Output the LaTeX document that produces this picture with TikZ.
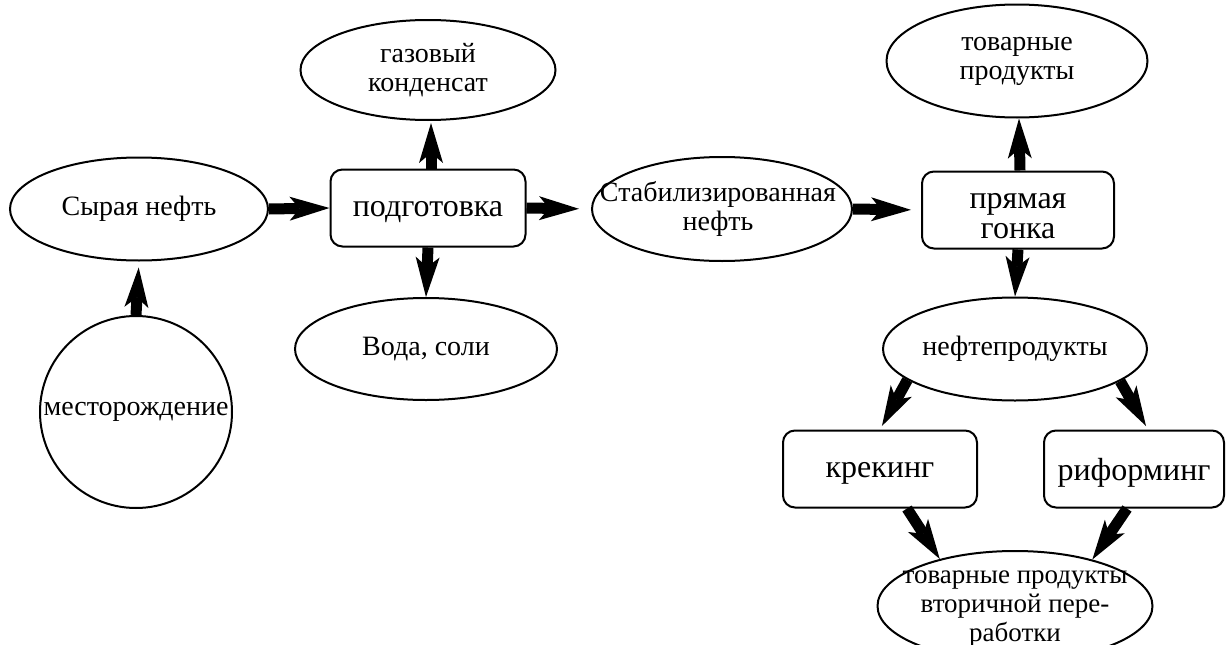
\documentclass[tikz,border=0pt]{standalone}
\usepackage{fontspec}
\setmainfont{Liberation Serif}
\usetikzlibrary{shapes.geometric,arrows.meta}
\begin{document}
\begin{tikzpicture}[x=1pt,y=-1pt,
 ell/.style={draw,line width=2pt,ellipse,inner sep=0pt},
 lbl/.style={align=center,font=\fontsize{28}{29}\selectfont,inner sep=0pt},
 bl/.style={align=center,font=\fontsize{32}{30}\selectfont,inner sep=0pt,yshift=-4pt},
 bx/.style={draw,line width=2pt,rounded corners=12pt,inner sep=0pt},
 flow/.style={line width=11pt,-{Stealth[length=40pt,width=24pt,inset=10pt,line width=0pt]}}]
\useasboundingbox (0,0) rectangle (1227,645);
% nodes
\node[ell,minimum width=258pt,minimum height=103pt,label={[lbl]center:Сырая нефть}] (syr) at (139,209) {};
\node[draw,line width=2pt,circle,minimum size=192pt,inner sep=0pt,label={[lbl]center:месторождение}] (mest) at (136,412) {};
\node[bx,minimum width=195pt,minimum height=77pt,label={[bl]center:подготовка}] (podg) at (428,208) {};
\node[ell,minimum width=255pt,minimum height=100pt,label={[lbl]center:газовый\\конденсат}] (gaz) at (428,70) {};
\node[ell,minimum width=262pt,minimum height=102pt,label={[lbl]center:Вода, соли}] (voda) at (426,349) {};
\node[ell,minimum width=260pt,minimum height=104pt,label={[lbl,xshift=-4pt]center:Стабилизированная\\нефть}] (stab) at (722,209) {};
\node[bx,minimum width=192pt,minimum height=77pt,label={[bl,yshift=-2pt]center:прямая\\гонка}] (pryam) at (1018,210) {};
\node[ell,minimum width=261pt,minimum height=113pt,label={[lbl]center:товарные\\продукты}] (tovar) at (1017,61) {};
\node[ell,minimum width=264pt,minimum height=103pt,label={[lbl]center:нефтепродукты}] (neft) at (1015,349) {};
\node[bx,minimum width=194pt,minimum height=77pt,label={[bl]center:крекинг}] (krek) at (880,469) {};
\node[bx,minimum width=180pt,minimum height=77pt,label={[bl]center:риформинг}] (riform) at (1134,469) {};
\node[ell,minimum width=275pt,minimum height=110pt,label={[lbl,font=\fontsize{27}{29}\selectfont,yshift=-3pt]center:товарные продукты\\вторичной пере-\\работки}] (vtor) at (1015,606) {};
% connectors
\draw[flow,shorten >=6pt] (mest.north) -- (syr.south);
\draw[flow] (syr.east) -- (podg.west);
\draw[flow,shorten >=2pt] ([xshift=3pt]podg.north) -- ([xshift=3pt]gaz.south);
\draw[flow] (podg.south) -- (voda.north);
\draw[flow,shorten >=12pt] (podg.east) -- (stab.west);
\draw[flow,shorten >=10pt] (stab.east) -- (pryam.west);
\draw[flow] ([xshift=2pt]pryam.north) -- ([xshift=2pt]tovar.south);
\draw[flow] (pryam.south) -- (neft.north);
\draw[flow,shorten >=4pt] (neft.196) -- (krek.north);
\draw[flow,shorten >=4pt] (neft.343) -- ([xshift=14pt]riform.north);
\draw[flow] ([xshift=27pt]krek.south) -- (vtor.148);
\draw[flow] ([xshift=-7pt]riform.south) -- (vtor.31);
\end{tikzpicture}
\end{document}
